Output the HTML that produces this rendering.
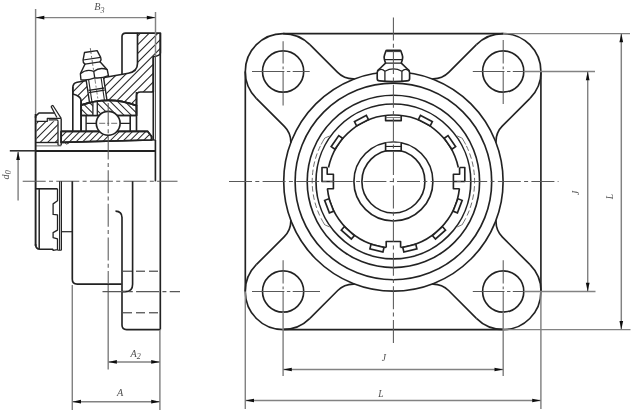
<!DOCTYPE html>
<html><head><meta charset="utf-8"><title>Flange bearing unit drawing</title>
<style>
html,body{margin:0;padding:0;background:#fff;}
body{width:636px;height:413px;overflow:hidden;font-family:"Liberation Serif",serif;}
svg{display:block;}
</style></head><body>
<svg width="636" height="413" viewBox="0 0 636 413">
<defs><filter id="soft" x="-2%" y="-2%" width="104%" height="104%"><feGaussianBlur stdDeviation="0.4"/></filter><clipPath id="c1"><path d="M137.5,33.1 H160.4 V53.2 Q160.2,55.6 153.3,56.8 V92 H140.5 Q136.5,92 136.5,96 V105.62 A80.8,80.8 0 0 0 81.2,105.14 V100.5 Q80.6,96 72.8,94 V87.6 Q72.8,83.2 77.2,82.2 L128.3,73.3 Q137.5,71.6 137.5,63.5 Z" clip-rule="evenodd"/></clipPath><clipPath id="c2"><path d="M81.2,105.14 A80.8,80.8 0 0 1 136.5,105.62 V115.5 H81.2 Z" clip-rule="evenodd"/></clipPath><clipPath id="c3"><path d="M61.2,131.4 H147.8 L151.6,136.4 V140.0 L61.2,142.4 Z" clip-rule="evenodd"/></clipPath><clipPath id="c4"><path d="M36.5,121.3 H57.8 V142.4 H36.5 Z" clip-rule="evenodd"/></clipPath></defs>
<rect x="0" y="0" width="636" height="413" fill="#fff"/>
<g filter="url(#soft)">
<g clip-path="url(#c1)" stroke="#242424" stroke-width="1.05"><line x1="-15.60" y1="110.00" x2="64.40" y2="30.00"/><line x1="-6.80" y1="110.00" x2="73.20" y2="30.00"/><line x1="2.00" y1="110.00" x2="82.00" y2="30.00"/><line x1="10.80" y1="110.00" x2="90.80" y2="30.00"/><line x1="19.60" y1="110.00" x2="99.60" y2="30.00"/><line x1="28.40" y1="110.00" x2="108.40" y2="30.00"/><line x1="37.20" y1="110.00" x2="117.20" y2="30.00"/><line x1="46.00" y1="110.00" x2="126.00" y2="30.00"/><line x1="54.80" y1="110.00" x2="134.80" y2="30.00"/><line x1="63.60" y1="110.00" x2="143.60" y2="30.00"/><line x1="72.40" y1="110.00" x2="152.40" y2="30.00"/><line x1="81.20" y1="110.00" x2="161.20" y2="30.00"/><line x1="90.00" y1="110.00" x2="170.00" y2="30.00"/><line x1="98.80" y1="110.00" x2="178.80" y2="30.00"/><line x1="107.60" y1="110.00" x2="187.60" y2="30.00"/><line x1="116.40" y1="110.00" x2="196.40" y2="30.00"/><line x1="125.20" y1="110.00" x2="205.20" y2="30.00"/><line x1="134.00" y1="110.00" x2="214.00" y2="30.00"/><line x1="142.80" y1="110.00" x2="222.80" y2="30.00"/><line x1="151.60" y1="110.00" x2="231.60" y2="30.00"/><line x1="160.40" y1="110.00" x2="240.40" y2="30.00"/><line x1="169.20" y1="110.00" x2="249.20" y2="30.00"/><line x1="178.00" y1="110.00" x2="258.00" y2="30.00"/><line x1="186.80" y1="110.00" x2="266.80" y2="30.00"/><line x1="195.60" y1="110.00" x2="275.60" y2="30.00"/><line x1="204.40" y1="110.00" x2="284.40" y2="30.00"/><line x1="213.20" y1="110.00" x2="293.20" y2="30.00"/><line x1="222.00" y1="110.00" x2="302.00" y2="30.00"/><line x1="230.80" y1="110.00" x2="310.80" y2="30.00"/><line x1="239.60" y1="110.00" x2="319.60" y2="30.00"/><line x1="248.40" y1="110.00" x2="328.40" y2="30.00"/></g>
<path d="M137.5,33.1 H160.4 V53.2 Q160.2,55.6 153.3,56.8 V92 H140.5 Q136.5,92 136.5,96 V105.62 A80.8,80.8 0 0 0 81.2,105.14 V100.5 Q80.6,96 72.8,94 V87.6 Q72.8,83.2 77.2,82.2 L128.3,73.3 Q137.5,71.6 137.5,63.5 Z" stroke="#242424" stroke-width="1.65" fill="none" stroke-linejoin="round" />
<path d="M122,74.4 V36.8 Q122,33.1 125.6,33.1 H137.5" stroke="#242424" stroke-width="1.65" fill="none" stroke-linejoin="round" />
<line x1="72.80" y1="87.00" x2="72.80" y2="131.30" stroke="#242424" stroke-width="1.65" stroke-linecap="butt"/>
<line x1="81.00" y1="100.00" x2="81.00" y2="131.30" stroke="#242424" stroke-width="1.65" stroke-linecap="butt"/>
<g transform="translate(94.7,77.7) rotate(-8.5)">
<rect x="-8.8" y="0" width="17.6" height="25" fill="#fff"/>
<path d="M-8.8,0 V24 M8.8,0 V24" stroke="#242424" stroke-width="1.4" fill="none" stroke-linejoin="round" />
<path d="M-6.3,0 V24 M6.3,0 V24" stroke="#242424" stroke-width="1.1" fill="none" stroke-linejoin="round" />
<path d="M0,1 V24" stroke="#555" stroke-width="0.7" fill="none" stroke-dasharray="5 2 2 2" stroke-linejoin="round" />
<path d="M-8.0,11.6 H8.0 M-8.0,13.8 H8.0" stroke="#242424" stroke-width="1.3" fill="none" stroke-linejoin="round" />
<path d="M-13.9,0 L-13.6,-6.0 L-7.6,-14.9 Q-9.6,-17 -8.9,-19.2 L-6.4,-26.4 H6.4 L8.9,-19.2 Q9.6,-17 7.6,-14.9 L13.6,-6.0 L13.9,0 Q7,2.0 0,0.2 Q-7,2.0 -13.9,0 Z" stroke="#242424" stroke-width="1.4" fill="#fff" stroke-linejoin="round" />
<path d="M-8.9,-19.2 H8.9 M-7.6,-14.9 H7.6" stroke="#242424" stroke-width="1.2" fill="none" stroke-linejoin="round" />
<path d="M-13.6,-6.0 Q-7,-10.2 0,-6.4 Q7,-10.2 13.6,-6.0 M0,-6.4 V0.2" stroke="#242424" stroke-width="1.3" fill="none" stroke-linejoin="round" />
<path d="M0,-30 V-7" stroke="#444" stroke-width="0.7" fill="none" stroke-dasharray="6 2 2 2" stroke-linejoin="round" />
</g>
<path d="M81.2,105.14 A80.8,80.8 0 0 1 136.5,105.62 V115.5 H81.2 Z" stroke="#242424" stroke-width="1.65" fill="#fff" stroke-linejoin="round" />
<g clip-path="url(#c2)" stroke="#242424" stroke-width="1.05"><line x1="56.70" y1="99.00" x2="73.70" y2="116.00"/><line x1="64.00" y1="99.00" x2="81.00" y2="116.00"/><line x1="71.30" y1="99.00" x2="88.30" y2="116.00"/><line x1="78.60" y1="99.00" x2="95.60" y2="116.00"/><line x1="85.90" y1="99.00" x2="102.90" y2="116.00"/><line x1="93.20" y1="99.00" x2="110.20" y2="116.00"/><line x1="100.50" y1="99.00" x2="117.50" y2="116.00"/><line x1="107.80" y1="99.00" x2="124.80" y2="116.00"/><line x1="115.10" y1="99.00" x2="132.10" y2="116.00"/><line x1="122.40" y1="99.00" x2="139.40" y2="116.00"/><line x1="129.70" y1="99.00" x2="146.70" y2="116.00"/><line x1="137.00" y1="99.00" x2="154.00" y2="116.00"/><line x1="144.30" y1="99.00" x2="161.30" y2="116.00"/><line x1="151.60" y1="99.00" x2="168.60" y2="116.00"/><line x1="158.90" y1="99.00" x2="175.90" y2="116.00"/></g>
<rect x="92.9" y="102.09" width="4.4" height="13.41" fill="#fff"/>
<line x1="92.90" y1="101.96" x2="92.90" y2="115.50" stroke="#242424" stroke-width="1.3" stroke-linecap="butt"/>
<line x1="97.30" y1="101.24" x2="97.30" y2="115.50" stroke="#242424" stroke-width="1.3" stroke-linecap="butt"/>
<path d="M81.2,105.14 A80.8,80.8 0 0 1 136.5,105.62 V115.5 H81.2 Z" stroke="#242424" stroke-width="1.65" fill="none" stroke-linejoin="round" />
<line x1="81.20" y1="115.50" x2="81.20" y2="131.30" stroke="#242424" stroke-width="1.65" stroke-linecap="butt"/>
<line x1="86.10" y1="115.50" x2="86.10" y2="131.30" stroke="#242424" stroke-width="1.4" stroke-linecap="butt"/>
<line x1="130.20" y1="115.50" x2="130.20" y2="131.30" stroke="#242424" stroke-width="1.65" stroke-linecap="butt"/>
<line x1="136.50" y1="92.00" x2="136.50" y2="131.30" stroke="#242424" stroke-width="1.65" stroke-linecap="butt"/>
<line x1="86.10" y1="123.30" x2="130.20" y2="123.30" stroke="#242424" stroke-width="1.3" stroke-linecap="butt"/>
<path d="M61.2,131.4 H147.8 L151.6,136.4 V140.0 L61.2,142.4 Z" stroke="#242424" stroke-width="1.65" fill="#fff" stroke-linejoin="round" />
<g clip-path="url(#c3)" stroke="#242424" stroke-width="1.05"><line x1="41.90" y1="143.00" x2="53.90" y2="131.00"/><line x1="48.50" y1="143.00" x2="60.50" y2="131.00"/><line x1="55.10" y1="143.00" x2="67.10" y2="131.00"/><line x1="61.70" y1="143.00" x2="73.70" y2="131.00"/><line x1="68.30" y1="143.00" x2="80.30" y2="131.00"/><line x1="74.90" y1="143.00" x2="86.90" y2="131.00"/><line x1="81.50" y1="143.00" x2="93.50" y2="131.00"/><line x1="88.10" y1="143.00" x2="100.10" y2="131.00"/><line x1="94.70" y1="143.00" x2="106.70" y2="131.00"/><line x1="101.30" y1="143.00" x2="113.30" y2="131.00"/><line x1="107.90" y1="143.00" x2="119.90" y2="131.00"/><line x1="114.50" y1="143.00" x2="126.50" y2="131.00"/><line x1="121.10" y1="143.00" x2="133.10" y2="131.00"/><line x1="127.70" y1="143.00" x2="139.70" y2="131.00"/><line x1="134.30" y1="143.00" x2="146.30" y2="131.00"/><line x1="140.90" y1="143.00" x2="152.90" y2="131.00"/><line x1="147.50" y1="143.00" x2="159.50" y2="131.00"/><line x1="154.10" y1="143.00" x2="166.10" y2="131.00"/><line x1="160.70" y1="143.00" x2="172.70" y2="131.00"/><line x1="167.30" y1="143.00" x2="179.30" y2="131.00"/></g>
<path d="M61.2,131.4 H147.8 L151.6,136.4 V140.0 L61.2,142.4 Z" stroke="#242424" stroke-width="1.65" fill="none" stroke-linejoin="round" />
<line x1="151.60" y1="140.00" x2="155.40" y2="140.00" stroke="#242424" stroke-width="1.3" stroke-linecap="butt"/>
<circle cx="108.20" cy="123.30" r="11.90" stroke="#242424" stroke-width="1.65" fill="#fff"/>
<line x1="99.20" y1="123.30" x2="117.20" y2="123.30" stroke="#333" stroke-width="0.7" stroke-dasharray="6 2 2 2" stroke-linecap="butt"/>
<line x1="153.30" y1="56.80" x2="153.30" y2="140.00" stroke="#242424" stroke-width="1.65" stroke-linecap="butt"/>
<line x1="160.30" y1="33.10" x2="160.30" y2="329.60" stroke="#242424" stroke-width="1.65" stroke-linecap="butt"/>
<line x1="155.50" y1="12.00" x2="155.50" y2="56.00" stroke="#828282" stroke-width="1.45" stroke-linecap="butt"/>
<line x1="155.50" y1="56.00" x2="155.50" y2="140.00" stroke="#555" stroke-width="1.0" stroke-linecap="butt"/>
<line x1="155.40" y1="140.00" x2="155.40" y2="181.40" stroke="#242424" stroke-width="1.65" stroke-linecap="butt"/>
<g clip-path="url(#c4)" stroke="#242424" stroke-width="1.05"><line x1="9.50" y1="143.00" x2="31.50" y2="121.00"/><line x1="17.00" y1="143.00" x2="39.00" y2="121.00"/><line x1="24.50" y1="143.00" x2="46.50" y2="121.00"/><line x1="32.00" y1="143.00" x2="54.00" y2="121.00"/><line x1="39.50" y1="143.00" x2="61.50" y2="121.00"/><line x1="47.00" y1="143.00" x2="69.00" y2="121.00"/><line x1="54.50" y1="143.00" x2="76.50" y2="121.00"/><line x1="62.00" y1="143.00" x2="84.00" y2="121.00"/><line x1="69.50" y1="143.00" x2="91.50" y2="121.00"/><line x1="77.00" y1="143.00" x2="99.00" y2="121.00"/><line x1="84.50" y1="143.00" x2="106.50" y2="121.00"/></g>
<path d="M36.5,121.3 H47.3 V118.4 H61.2 M48.6,119.9 H56.8 Q58.0,119.9 58.0,121.3" stroke="#242424" stroke-width="1.25" fill="none" stroke-linejoin="round" />
<path d="M35.6,118 V116.2 L39.0,113.0 H54.3" stroke="#242424" stroke-width="1.65" fill="none" stroke-linejoin="round" />
<path d="M51.0,106.4 L56.9,117.5 M52.8,105.3 L61.2,118.4 M51.0,106.4 L52.8,105.3" stroke="#242424" stroke-width="1.2" fill="none" stroke-linejoin="round" />
<line x1="58.00" y1="121.30" x2="58.00" y2="145.30" stroke="#242424" stroke-width="1.3" stroke-linecap="butt"/>
<line x1="61.20" y1="118.40" x2="61.20" y2="145.30" stroke="#242424" stroke-width="1.4" stroke-linecap="butt"/>
<line x1="58.00" y1="145.30" x2="61.20" y2="145.30" stroke="#242424" stroke-width="1.0" stroke-linecap="butt"/>
<line x1="36.00" y1="142.50" x2="58.00" y2="142.50" stroke="#242424" stroke-width="1.4" stroke-linecap="butt"/>
<line x1="36.00" y1="145.90" x2="61.20" y2="145.90" stroke="#666" stroke-width="1.0" stroke-linecap="butt"/>
<path d="M61.2,142.6 H64.5 Q66.5,145.6 69.5,142.6" stroke="#242424" stroke-width="0.9" fill="none" stroke-linejoin="round" />
<line x1="35.60" y1="9.00" x2="35.60" y2="114.00" stroke="#828282" stroke-width="1.45" stroke-linecap="butt"/>
<line x1="35.60" y1="114.00" x2="35.60" y2="246.00" stroke="#242424" stroke-width="1.9" stroke-linecap="butt"/>
<line x1="9.80" y1="150.80" x2="35.60" y2="150.80" stroke="#333" stroke-width="1.6" stroke-linecap="butt"/>
<line x1="35.60" y1="150.90" x2="155.40" y2="150.90" stroke="#242424" stroke-width="2.0" stroke-linecap="butt"/>
<line x1="22.70" y1="181.30" x2="177.50" y2="181.30" stroke="#585858" stroke-width="1.05" stroke-dasharray="23 3.3 4 3.3" stroke-linecap="butt"/>
<line x1="108.20" y1="103.00" x2="108.20" y2="283.00" stroke="#585858" stroke-width="1.05" stroke-dasharray="23 3.3 4 3.3" stroke-linecap="butt"/>
<line x1="108.20" y1="285.00" x2="108.20" y2="369.50" stroke="#828282" stroke-width="1.45" stroke-linecap="butt"/>
<path d="M35.6,244 Q35.6,249.2 40,249.2 H53.1" stroke="#242424" stroke-width="1.65" fill="none" stroke-linejoin="round" />
<line x1="39.20" y1="188.80" x2="39.20" y2="249.00" stroke="#242424" stroke-width="1.5" stroke-linecap="butt"/>
<line x1="35.60" y1="188.80" x2="57.50" y2="188.80" stroke="#242424" stroke-width="1.65" stroke-linecap="butt"/>
<path d="M57.5,188.8 V200.8 L53.1,203.9 V214.4 L57.5,214.8 V230.1 L53.1,232.6 V237.6 L57.5,238.9 V249.6 L53.1,250.4 V249.2" stroke="#242424" stroke-width="1.3" fill="none" stroke-linejoin="round" />
<line x1="59.60" y1="181.30" x2="59.60" y2="250.20" stroke="#242424" stroke-width="1.1" stroke-linecap="butt"/>
<line x1="61.40" y1="181.30" x2="61.40" y2="250.20" stroke="#242424" stroke-width="1.2" stroke-linecap="butt"/>
<line x1="57.50" y1="250.20" x2="61.40" y2="250.20" stroke="#242424" stroke-width="1.1" stroke-linecap="butt"/>
<line x1="61.40" y1="231.70" x2="72.30" y2="231.70" stroke="#242424" stroke-width="1.2" stroke-linecap="butt"/>
<path d="M72.3,181.3 V279.3 Q72.3,284.1 77.2,284.1 H121.6" stroke="#242424" stroke-width="1.65" fill="none" stroke-linejoin="round" />
<path d="M115.5,211.1 Q122,211.3 122,217.6 V325 Q122,329.6 126.6,329.6 H160.3" stroke="#242424" stroke-width="1.65" fill="none" stroke-linejoin="round" />
<path d="M132.6,181.3 V284.2 Q132.6,291.6 125.6,291.6 H122" stroke="#242424" stroke-width="1.65" fill="none" stroke-linejoin="round" />
<line x1="123.00" y1="271.20" x2="160.00" y2="271.20" stroke="#242424" stroke-width="1.0" stroke-dasharray="9 4" stroke-linecap="butt"/>
<line x1="123.00" y1="312.80" x2="160.00" y2="312.80" stroke="#242424" stroke-width="1.0" stroke-dasharray="9 4" stroke-linecap="butt"/>
<line x1="102.50" y1="291.60" x2="180.00" y2="291.60" stroke="#585858" stroke-width="1.05" stroke-dasharray="23 3.3 4 3.3" stroke-linecap="butt"/>
<line x1="35.60" y1="17.60" x2="155.50" y2="17.60" stroke="#828282" stroke-width="1.45" stroke-linecap="butt"/>
<polygon points="35.60,17.60 44.30,15.75 44.30,19.45" fill="#111"/>
<polygon points="155.50,17.60 146.80,19.45 146.80,15.75" fill="#111"/>
<text x="94.2" y="9.9" font-family="Liberation Serif, serif" font-style="italic" font-size="10.2" fill="#505050">B<tspan font-size="8" dy="2.8">3</tspan></text>
<line x1="18.10" y1="151.50" x2="18.10" y2="200.60" stroke="#828282" stroke-width="1.45" stroke-linecap="butt"/>
<polygon points="18.10,151.40 19.95,160.10 16.25,160.10" fill="#111"/>
<text x="9" y="179.4" font-family="Liberation Serif, serif" font-style="italic" font-size="10.2" fill="#505050" transform="rotate(-90 9 179.4)">d<tspan font-size="8" dy="2.4">0</tspan></text>
<line x1="72.30" y1="285.00" x2="72.30" y2="410.00" stroke="#828282" stroke-width="1.45" stroke-linecap="butt"/>
<line x1="159.90" y1="330.00" x2="159.90" y2="410.00" stroke="#828282" stroke-width="1.45" stroke-linecap="butt"/>
<line x1="108.20" y1="361.90" x2="159.90" y2="361.90" stroke="#828282" stroke-width="1.45" stroke-linecap="butt"/>
<polygon points="108.20,361.90 116.90,360.05 116.90,363.75" fill="#111"/>
<polygon points="159.90,361.90 151.20,363.75 151.20,360.05" fill="#111"/>
<text x="130.5" y="357" font-family="Liberation Serif, serif" font-style="italic" font-size="10.2" fill="#505050">A<tspan font-size="8" dy="2.4">2</tspan></text>
<line x1="72.30" y1="401.70" x2="159.90" y2="401.70" stroke="#828282" stroke-width="1.45" stroke-linecap="butt"/>
<polygon points="72.30,401.70 81.00,399.85 81.00,403.55" fill="#111"/>
<polygon points="159.90,401.70 151.20,403.55 151.20,399.85" fill="#111"/>
<text x="120.00" y="395.60" font-family="Liberation Serif, serif" font-style="italic" font-size="10.2" text-anchor="middle" fill="#505050" >A</text>
<path d="M283.20,33.60 H503.00 A37.9,37.9 0 0 1 540.90,71.50 V291.70 A37.9,37.9 0 0 1 503.00,329.60 H283.20 A37.9,37.9 0 0 1 245.30,291.70 V71.50 A37.9,37.9 0 0 1 283.20,33.60 Z" stroke="#242424" stroke-width="1.65" fill="none" stroke-linejoin="round" />
<circle cx="393.40" cy="181.45" r="109.70" stroke="#242424" stroke-width="1.65" fill="none"/>
<circle cx="393.40" cy="181.45" r="98.30" stroke="#242424" stroke-width="1.65" fill="none"/>
<circle cx="393.40" cy="181.45" r="86.20" stroke="#242424" stroke-width="1.65" fill="none"/>
<circle cx="393.40" cy="181.45" r="77.40" stroke="#242424" stroke-width="1.65" fill="none"/>
<path d="M309.90,44.70 L337.61,72.41 A22.0,22.0 0 0 0 353.16,78.85 L354.58,78.85" stroke="#242424" stroke-width="1.65" fill="none" stroke-linejoin="round" />
<path d="M256.30,98.30 L284.36,126.36 A22.0,22.0 0 0 1 290.80,141.91 L290.80,142.63" stroke="#242424" stroke-width="1.65" fill="none" stroke-linejoin="round" />
<path d="M283.10,33.60 A37.9,37.9 0 0 1 309.90,44.70" stroke="#242424" stroke-width="1.65" fill="none" stroke-linejoin="round" />
<path d="M245.20,71.50 A37.9,37.9 0 0 0 256.30,98.30" stroke="#242424" stroke-width="1.65" fill="none" stroke-linejoin="round" />
<circle cx="283.10" cy="71.50" r="20.60" stroke="#242424" stroke-width="1.65" fill="none"/>
<line x1="252.00" y1="71.50" x2="284.40" y2="71.50" stroke="#585858" stroke-width="1.05" stroke-linecap="butt"/>
<line x1="286.90" y1="71.50" x2="290.30" y2="71.50" stroke="#585858" stroke-width="1.05" stroke-linecap="butt"/>
<line x1="292.70" y1="71.50" x2="309.70" y2="71.50" stroke="#585858" stroke-width="1.05" stroke-linecap="butt"/>
<line x1="283.10" y1="41.30" x2="283.10" y2="63.60" stroke="#585858" stroke-width="1.05" stroke-linecap="butt"/>
<line x1="283.10" y1="66.60" x2="283.10" y2="69.20" stroke="#585858" stroke-width="1.05" stroke-linecap="butt"/>
<line x1="283.10" y1="71.70" x2="283.10" y2="105.60" stroke="#585858" stroke-width="1.05" stroke-linecap="butt"/>
<path d="M309.90,318.30 L337.71,290.49 A22.0,22.0 0 0 1 353.26,284.05 L354.58,284.05" stroke="#242424" stroke-width="1.65" fill="none" stroke-linejoin="round" />
<path d="M256.30,264.70 L284.36,236.64 A22.0,22.0 0 0 0 290.80,221.09 L290.80,220.27" stroke="#242424" stroke-width="1.65" fill="none" stroke-linejoin="round" />
<path d="M283.10,329.40 A37.9,37.9 0 0 0 309.90,318.30" stroke="#242424" stroke-width="1.65" fill="none" stroke-linejoin="round" />
<path d="M245.20,291.50 A37.9,37.9 0 0 1 256.30,264.70" stroke="#242424" stroke-width="1.65" fill="none" stroke-linejoin="round" />
<circle cx="283.10" cy="291.50" r="20.60" stroke="#242424" stroke-width="1.65" fill="none"/>
<line x1="252.00" y1="291.50" x2="284.40" y2="291.50" stroke="#585858" stroke-width="1.05" stroke-linecap="butt"/>
<line x1="286.90" y1="291.50" x2="290.30" y2="291.50" stroke="#585858" stroke-width="1.05" stroke-linecap="butt"/>
<line x1="292.70" y1="291.50" x2="320.00" y2="291.50" stroke="#585858" stroke-width="1.05" stroke-linecap="butt"/>
<line x1="283.10" y1="260.30" x2="283.10" y2="283.60" stroke="#585858" stroke-width="1.05" stroke-linecap="butt"/>
<line x1="283.10" y1="286.60" x2="283.10" y2="289.20" stroke="#585858" stroke-width="1.05" stroke-linecap="butt"/>
<line x1="283.10" y1="291.70" x2="283.10" y2="312.00" stroke="#585858" stroke-width="1.05" stroke-linecap="butt"/>
<path d="M476.40,44.70 L448.69,72.41 A22.0,22.0 0 0 1 433.14,78.85 L432.22,78.85" stroke="#242424" stroke-width="1.65" fill="none" stroke-linejoin="round" />
<path d="M530.00,98.30 L502.44,125.86 A22.0,22.0 0 0 0 496.00,141.41 L496.00,142.63" stroke="#242424" stroke-width="1.65" fill="none" stroke-linejoin="round" />
<path d="M503.20,33.60 A37.9,37.9 0 0 0 476.40,44.70" stroke="#242424" stroke-width="1.65" fill="none" stroke-linejoin="round" />
<path d="M541.10,71.50 A37.9,37.9 0 0 1 530.00,98.30" stroke="#242424" stroke-width="1.65" fill="none" stroke-linejoin="round" />
<circle cx="503.20" cy="71.50" r="20.60" stroke="#242424" stroke-width="1.65" fill="none"/>
<line x1="472.80" y1="71.50" x2="504.50" y2="71.50" stroke="#585858" stroke-width="1.05" stroke-linecap="butt"/>
<line x1="507.00" y1="71.50" x2="510.40" y2="71.50" stroke="#585858" stroke-width="1.05" stroke-linecap="butt"/>
<line x1="512.80" y1="71.50" x2="524.00" y2="71.50" stroke="#585858" stroke-width="1.05" stroke-linecap="butt"/>
<line x1="503.20" y1="40.00" x2="503.20" y2="63.60" stroke="#585858" stroke-width="1.05" stroke-linecap="butt"/>
<line x1="503.20" y1="66.60" x2="503.20" y2="69.20" stroke="#585858" stroke-width="1.05" stroke-linecap="butt"/>
<line x1="503.20" y1="71.70" x2="503.20" y2="104.00" stroke="#585858" stroke-width="1.05" stroke-linecap="butt"/>
<path d="M476.40,318.30 L448.59,290.49 A22.0,22.0 0 0 0 433.04,284.05 L432.22,284.05" stroke="#242424" stroke-width="1.65" fill="none" stroke-linejoin="round" />
<path d="M530.00,264.70 L502.44,237.14 A22.0,22.0 0 0 1 496.00,221.59 L496.00,220.27" stroke="#242424" stroke-width="1.65" fill="none" stroke-linejoin="round" />
<path d="M503.20,329.40 A37.9,37.9 0 0 1 476.40,318.30" stroke="#242424" stroke-width="1.65" fill="none" stroke-linejoin="round" />
<path d="M541.10,291.50 A37.9,37.9 0 0 0 530.00,264.70" stroke="#242424" stroke-width="1.65" fill="none" stroke-linejoin="round" />
<circle cx="503.20" cy="291.50" r="20.60" stroke="#242424" stroke-width="1.65" fill="none"/>
<line x1="472.80" y1="291.50" x2="504.50" y2="291.50" stroke="#585858" stroke-width="1.05" stroke-linecap="butt"/>
<line x1="507.00" y1="291.50" x2="510.40" y2="291.50" stroke="#585858" stroke-width="1.05" stroke-linecap="butt"/>
<line x1="512.80" y1="291.50" x2="524.00" y2="291.50" stroke="#585858" stroke-width="1.05" stroke-linecap="butt"/>
<line x1="503.20" y1="260.30" x2="503.20" y2="283.60" stroke="#585858" stroke-width="1.05" stroke-linecap="butt"/>
<line x1="503.20" y1="286.60" x2="503.20" y2="289.20" stroke="#585858" stroke-width="1.05" stroke-linecap="butt"/>
<line x1="503.20" y1="291.70" x2="503.20" y2="312.00" stroke="#585858" stroke-width="1.05" stroke-linecap="butt"/>
<path d="M459.40,188.70 A66.4,66.4 0 0 1 400.60,247.46" stroke="#242424" stroke-width="1.65" fill="none" stroke-linejoin="round" />
<path d="M386.20,247.46 A66.4,66.4 0 0 1 327.40,188.70" stroke="#242424" stroke-width="1.65" fill="none" stroke-linejoin="round" />
<path d="M328.48,167.50 A66.4,66.4 0 0 1 458.32,167.50" stroke="#242424" stroke-width="1.65" fill="none" stroke-linejoin="round" />
<path d="M386.20,247.46 V241.45 H400.60 V247.46" stroke="#242424" stroke-width="1.65" fill="none" stroke-linejoin="round" />
<path d="M385.60,115.51 V120.65 H401.20 V115.51" stroke="#242424" stroke-width="1.65" fill="none" stroke-linejoin="round" />
<line x1="385.60" y1="117.55" x2="401.20" y2="117.55" stroke="#555" stroke-width="0.8" stroke-linecap="butt"/>
<rect x="-6.70" y="-2.30" width="13.4" height="4.6" fill="#fff" stroke="#242424" stroke-width="1.65" transform="translate(425.33,120.62) rotate(27.69)"/>
<rect x="-6.70" y="-2.30" width="13.4" height="4.6" fill="#fff" stroke="#242424" stroke-width="1.65" transform="translate(449.94,142.42) rotate(55.38)"/>
<rect x="-6.70" y="-2.30" width="13.4" height="4.6" fill="#fff" stroke="#242424" stroke-width="1.65" transform="translate(457.64,205.81) rotate(110.77)"/>
<rect x="-6.70" y="-2.30" width="13.4" height="4.6" fill="#fff" stroke="#242424" stroke-width="1.65" transform="translate(438.96,232.87) rotate(138.46)"/>
<rect x="-6.70" y="-2.30" width="13.4" height="4.6" fill="#fff" stroke="#242424" stroke-width="1.65" transform="translate(409.84,248.15) rotate(166.15)"/>
<rect x="-6.70" y="-2.30" width="13.4" height="4.6" fill="#fff" stroke="#242424" stroke-width="1.65" transform="translate(361.47,120.62) rotate(-27.69)"/>
<rect x="-6.70" y="-2.30" width="13.4" height="4.6" fill="#fff" stroke="#242424" stroke-width="1.65" transform="translate(336.86,142.42) rotate(-55.38)"/>
<rect x="-6.70" y="-2.30" width="13.4" height="4.6" fill="#fff" stroke="#242424" stroke-width="1.65" transform="translate(329.16,205.81) rotate(-110.77)"/>
<rect x="-6.70" y="-2.30" width="13.4" height="4.6" fill="#fff" stroke="#242424" stroke-width="1.65" transform="translate(347.84,232.87) rotate(-138.46)"/>
<rect x="-6.70" y="-2.30" width="13.4" height="4.6" fill="#fff" stroke="#242424" stroke-width="1.65" transform="translate(376.96,248.15) rotate(-166.15)"/>
<path d="M327.20,167.5 H322.00 V181.45 H333.40 M327.20,167.5 V174.2 H333.40 V188.7 H327.20" stroke="#242424" stroke-width="1.65" fill="none" stroke-linejoin="round" />
<path d="M459.60,167.5 H464.80 V181.45 H453.40 M459.60,167.5 V174.2 H453.40 V188.7 H459.60" stroke="#242424" stroke-width="1.65" fill="none" stroke-linejoin="round" />
<path d="M466.38,145.85 A81.2,81.2 0 0 1 466.38,217.05" stroke="#666" stroke-width="0.95" fill="none" stroke-dasharray="5.5 2.8" stroke-linejoin="round" />
<path d="M457.15,135.98 L461.71,137.93" stroke="#666" stroke-width="0.9" fill="none" stroke-linejoin="round" />
<path d="M461.88,137.82 A81.2,81.2 0 0 1 465.75,144.59" stroke="#666" stroke-width="0.9" fill="none" stroke-linejoin="round" />
<path d="M465.75,218.31 A81.2,81.2 0 0 1 461.88,225.08" stroke="#666" stroke-width="0.9" fill="none" stroke-linejoin="round" />
<path d="M457.15,226.92 L461.71,224.97" stroke="#666" stroke-width="0.9" fill="none" stroke-linejoin="round" />
<path d="M320.42,145.85 A81.2,81.2 0 0 0 320.42,217.05" stroke="#666" stroke-width="0.95" fill="none" stroke-dasharray="5.5 2.8" stroke-linejoin="round" />
<path d="M329.65,135.98 L325.09,137.93" stroke="#666" stroke-width="0.9" fill="none" stroke-linejoin="round" />
<path d="M324.92,137.82 A81.2,81.2 0 0 0 321.05,144.59" stroke="#666" stroke-width="0.9" fill="none" stroke-linejoin="round" />
<path d="M321.05,218.31 A81.2,81.2 0 0 0 324.92,225.08" stroke="#666" stroke-width="0.9" fill="none" stroke-linejoin="round" />
<path d="M329.65,226.92 L325.09,224.97" stroke="#666" stroke-width="0.9" fill="none" stroke-linejoin="round" />
<circle cx="393.40" cy="181.45" r="39.50" stroke="#242424" stroke-width="1.65" fill="none"/>
<circle cx="393.40" cy="181.45" r="31.50" stroke="#242424" stroke-width="1.65" fill="none"/>
<path d="M385.60,142.75 V150.85 H401.20 V142.75" stroke="#242424" stroke-width="1.65" fill="#fff" stroke-linejoin="round" />
<line x1="385.60" y1="146.45" x2="401.20" y2="146.45" stroke="#242424" stroke-width="1.1" stroke-linecap="butt"/>
<path d="M377.20,78.4 V72.8 Q377.20,70.2 379.40,69.0 L385.50,63.1 L384.40,59.6 Q383.70,57 384.70,54.4 L385.90,50.9 Q386.10,50.3 386.90,50.3 H399.90 Q400.70,50.3 400.90,50.9 L402.10,54.4 Q403.10,57 402.40,59.6 L401.30,63.1 L407.40,69.0 Q409.60,70.2 409.60,72.8 V78.4 Q409.60,80.9 407.00,80.9 Q393.40,82.4 379.80,80.9 Q377.20,80.9 377.20,78.4 Z" stroke="#242424" stroke-width="1.65" fill="#fff" stroke-linejoin="round" />
<path d="M384.40,59.6 H402.40 M385.50,63.1 H401.30" stroke="#242424" stroke-width="1.2" fill="none" stroke-linejoin="round" />
<path d="M377.40,71.2 Q381.20,67.6 384.90,71.2 Q393.40,66.4 401.90,71.2 Q405.60,67.6 409.40,71.2" stroke="#242424" stroke-width="1.3" fill="none" stroke-linejoin="round" />
<path d="M384.90,71.2 V81.2 M401.90,71.2 V81.2" stroke="#242424" stroke-width="1.3" fill="none" stroke-linejoin="round" />
<path d="M386.40,51.6 H400.40" stroke="#242424" stroke-width="0.9" fill="none" stroke-linejoin="round" />
<line x1="229.00" y1="181.45" x2="558.50" y2="181.45" stroke="#585858" stroke-width="1.05" stroke-dasharray="23 3.3 4 3.3" stroke-linecap="butt"/>
<line x1="393.40" y1="17.50" x2="393.40" y2="344.50" stroke="#585858" stroke-width="1.05" stroke-dasharray="23 3.3 4 3.3" stroke-linecap="butt"/>
<line x1="283.10" y1="312.00" x2="283.10" y2="376.00" stroke="#828282" stroke-width="1.45" stroke-linecap="butt"/>
<line x1="503.20" y1="312.00" x2="503.20" y2="376.00" stroke="#828282" stroke-width="1.45" stroke-linecap="butt"/>
<line x1="283.10" y1="369.50" x2="503.20" y2="369.50" stroke="#828282" stroke-width="1.45" stroke-linecap="butt"/>
<polygon points="283.10,369.50 291.80,367.65 291.80,371.35" fill="#111"/>
<polygon points="503.20,369.50 494.50,371.35 494.50,367.65" fill="#111"/>
<text x="383.80" y="360.60" font-family="Liberation Serif, serif" font-style="italic" font-size="9.5" text-anchor="middle" fill="#505050" >J</text>
<line x1="245.30" y1="291.50" x2="245.30" y2="409.00" stroke="#828282" stroke-width="1.45" stroke-linecap="butt"/>
<line x1="540.90" y1="291.50" x2="540.90" y2="409.00" stroke="#828282" stroke-width="1.45" stroke-linecap="butt"/>
<line x1="245.30" y1="400.50" x2="540.90" y2="400.50" stroke="#828282" stroke-width="1.45" stroke-linecap="butt"/>
<polygon points="245.30,400.50 254.00,398.65 254.00,402.35" fill="#111"/>
<polygon points="540.90,400.50 532.20,402.35 532.20,398.65" fill="#111"/>
<text x="380.80" y="397.00" font-family="Liberation Serif, serif" font-style="italic" font-size="9.5" text-anchor="middle" fill="#505050" >L</text>
<line x1="524.00" y1="71.50" x2="595.00" y2="71.50" stroke="#828282" stroke-width="1.45" stroke-linecap="butt"/>
<line x1="524.00" y1="291.50" x2="595.50" y2="291.50" stroke="#828282" stroke-width="1.45" stroke-linecap="butt"/>
<line x1="587.70" y1="71.50" x2="587.70" y2="291.50" stroke="#828282" stroke-width="1.45" stroke-linecap="butt"/>
<polygon points="587.70,71.50 589.55,80.20 585.85,80.20" fill="#111"/>
<polygon points="587.70,291.50 585.85,282.80 589.55,282.80" fill="#111"/>
<text x="579.00" y="193.00" font-family="Liberation Serif, serif" font-style="italic" font-size="9.5" text-anchor="middle" fill="#505050" transform="rotate(-90 579.00 193.00)" >J</text>
<line x1="503.20" y1="33.60" x2="630.00" y2="33.60" stroke="#828282" stroke-width="1.45" stroke-linecap="butt"/>
<line x1="503.20" y1="329.60" x2="630.50" y2="329.60" stroke="#828282" stroke-width="1.45" stroke-linecap="butt"/>
<line x1="621.30" y1="33.60" x2="621.30" y2="329.60" stroke="#828282" stroke-width="1.45" stroke-linecap="butt"/>
<polygon points="621.30,33.60 623.15,42.30 619.45,42.30" fill="#111"/>
<polygon points="621.30,329.60 619.45,320.90 623.15,320.90" fill="#111"/>
<text x="613.30" y="196.50" font-family="Liberation Serif, serif" font-style="italic" font-size="9.5" text-anchor="middle" fill="#505050" transform="rotate(-90 613.30 196.50)" >L</text>
</g>
</svg>
</body></html>
